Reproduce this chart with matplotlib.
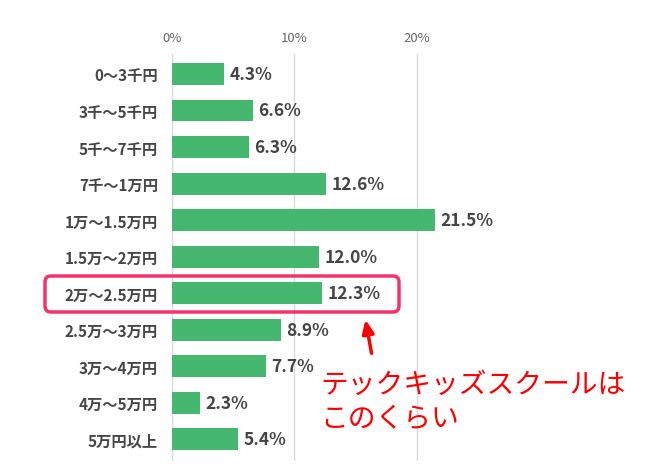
import matplotlib.pyplot as plt
from matplotlib.patches import FancyBboxPatch

plt.rcParams['font.family'] = ['Noto Sans CJK JP', 'DejaVu Sans']

# 月謝の価格帯と割合(%)
categories = ['0〜3千円', '3千〜5千円', '5千〜7千円', '7千〜1万円', '1万〜1.5万円',
              '1.5万〜2万円', '2万〜2.5万円', '2.5万〜3万円', '3万〜4万円', '4万〜5万円', '5万円以上']
values = [4.3, 6.6, 6.3, 12.6, 21.5, 12.0, 12.3, 8.9, 7.7, 2.3, 5.4]
tick_values = [0, 10, 20]
tick_labels = ['0%', '10%', '20%']
highlight = '2万〜2.5万円'
note = 'テックキッズスクールは\nこのくらい'

fig = plt.figure(figsize=(6.51, 4.77), dpi=100)
ax = fig.add_axes([0.264, 0.031, 0.47, 0.854])

y = list(range(len(categories)))
ax.barh(y, values, height=0.6, color='#46b76e', zorder=2)
for yi, v in zip(y, values):
    ax.text(v + 0.45, yi, f'{v:.1f}%', va='center', ha='left',
            fontsize=12.5, fontweight='bold', color='#454545')

ax.set_xlim(0, 25)
ax.set_ylim(len(categories) - 0.4, -0.55)
ax.set_yticks(y)
ax.set_yticklabels(categories, fontsize=11, fontweight='bold', color='#454545')
ax.set_xticks(tick_values)
ax.set_xticklabels(tick_labels, fontsize=9.5, color='#666666')
ax.xaxis.tick_top()
ax.tick_params(axis='both', length=0)
ax.tick_params(axis='y', pad=10)
ax.tick_params(axis='x', pad=7)
ax.grid(axis='x', color='#d9d9d9', linewidth=1, zorder=0)
for s in ax.spines.values():
    s.set_visible(False)

# 強調枠
box = FancyBboxPatch((45, 477 - 313), 354, 36,
                     boxstyle='round,pad=0,rounding_size=6',
                     transform=None, fill=False, edgecolor='#f5336a', linewidth=2.5,
                     zorder=5)
fig.patches.append(box)

# 矢印と注記
ax.annotate('', xy=(365 / 651, 1 - 318 / 477), xycoords='figure fraction',
            xytext=(372 / 651, 1 - 357 / 477), textcoords='figure fraction',
            arrowprops=dict(arrowstyle='-|>,head_width=0.35,head_length=0.8',
                            color='#ff0000', lw=2.5), annotation_clip=False)
fig.text(320 / 651, 1 - 434 / 477, note, fontsize=20, color='#ff0000',
         ha='left', va='bottom', linespacing=1.18)

fig.savefig('out.png', dpi=100)
